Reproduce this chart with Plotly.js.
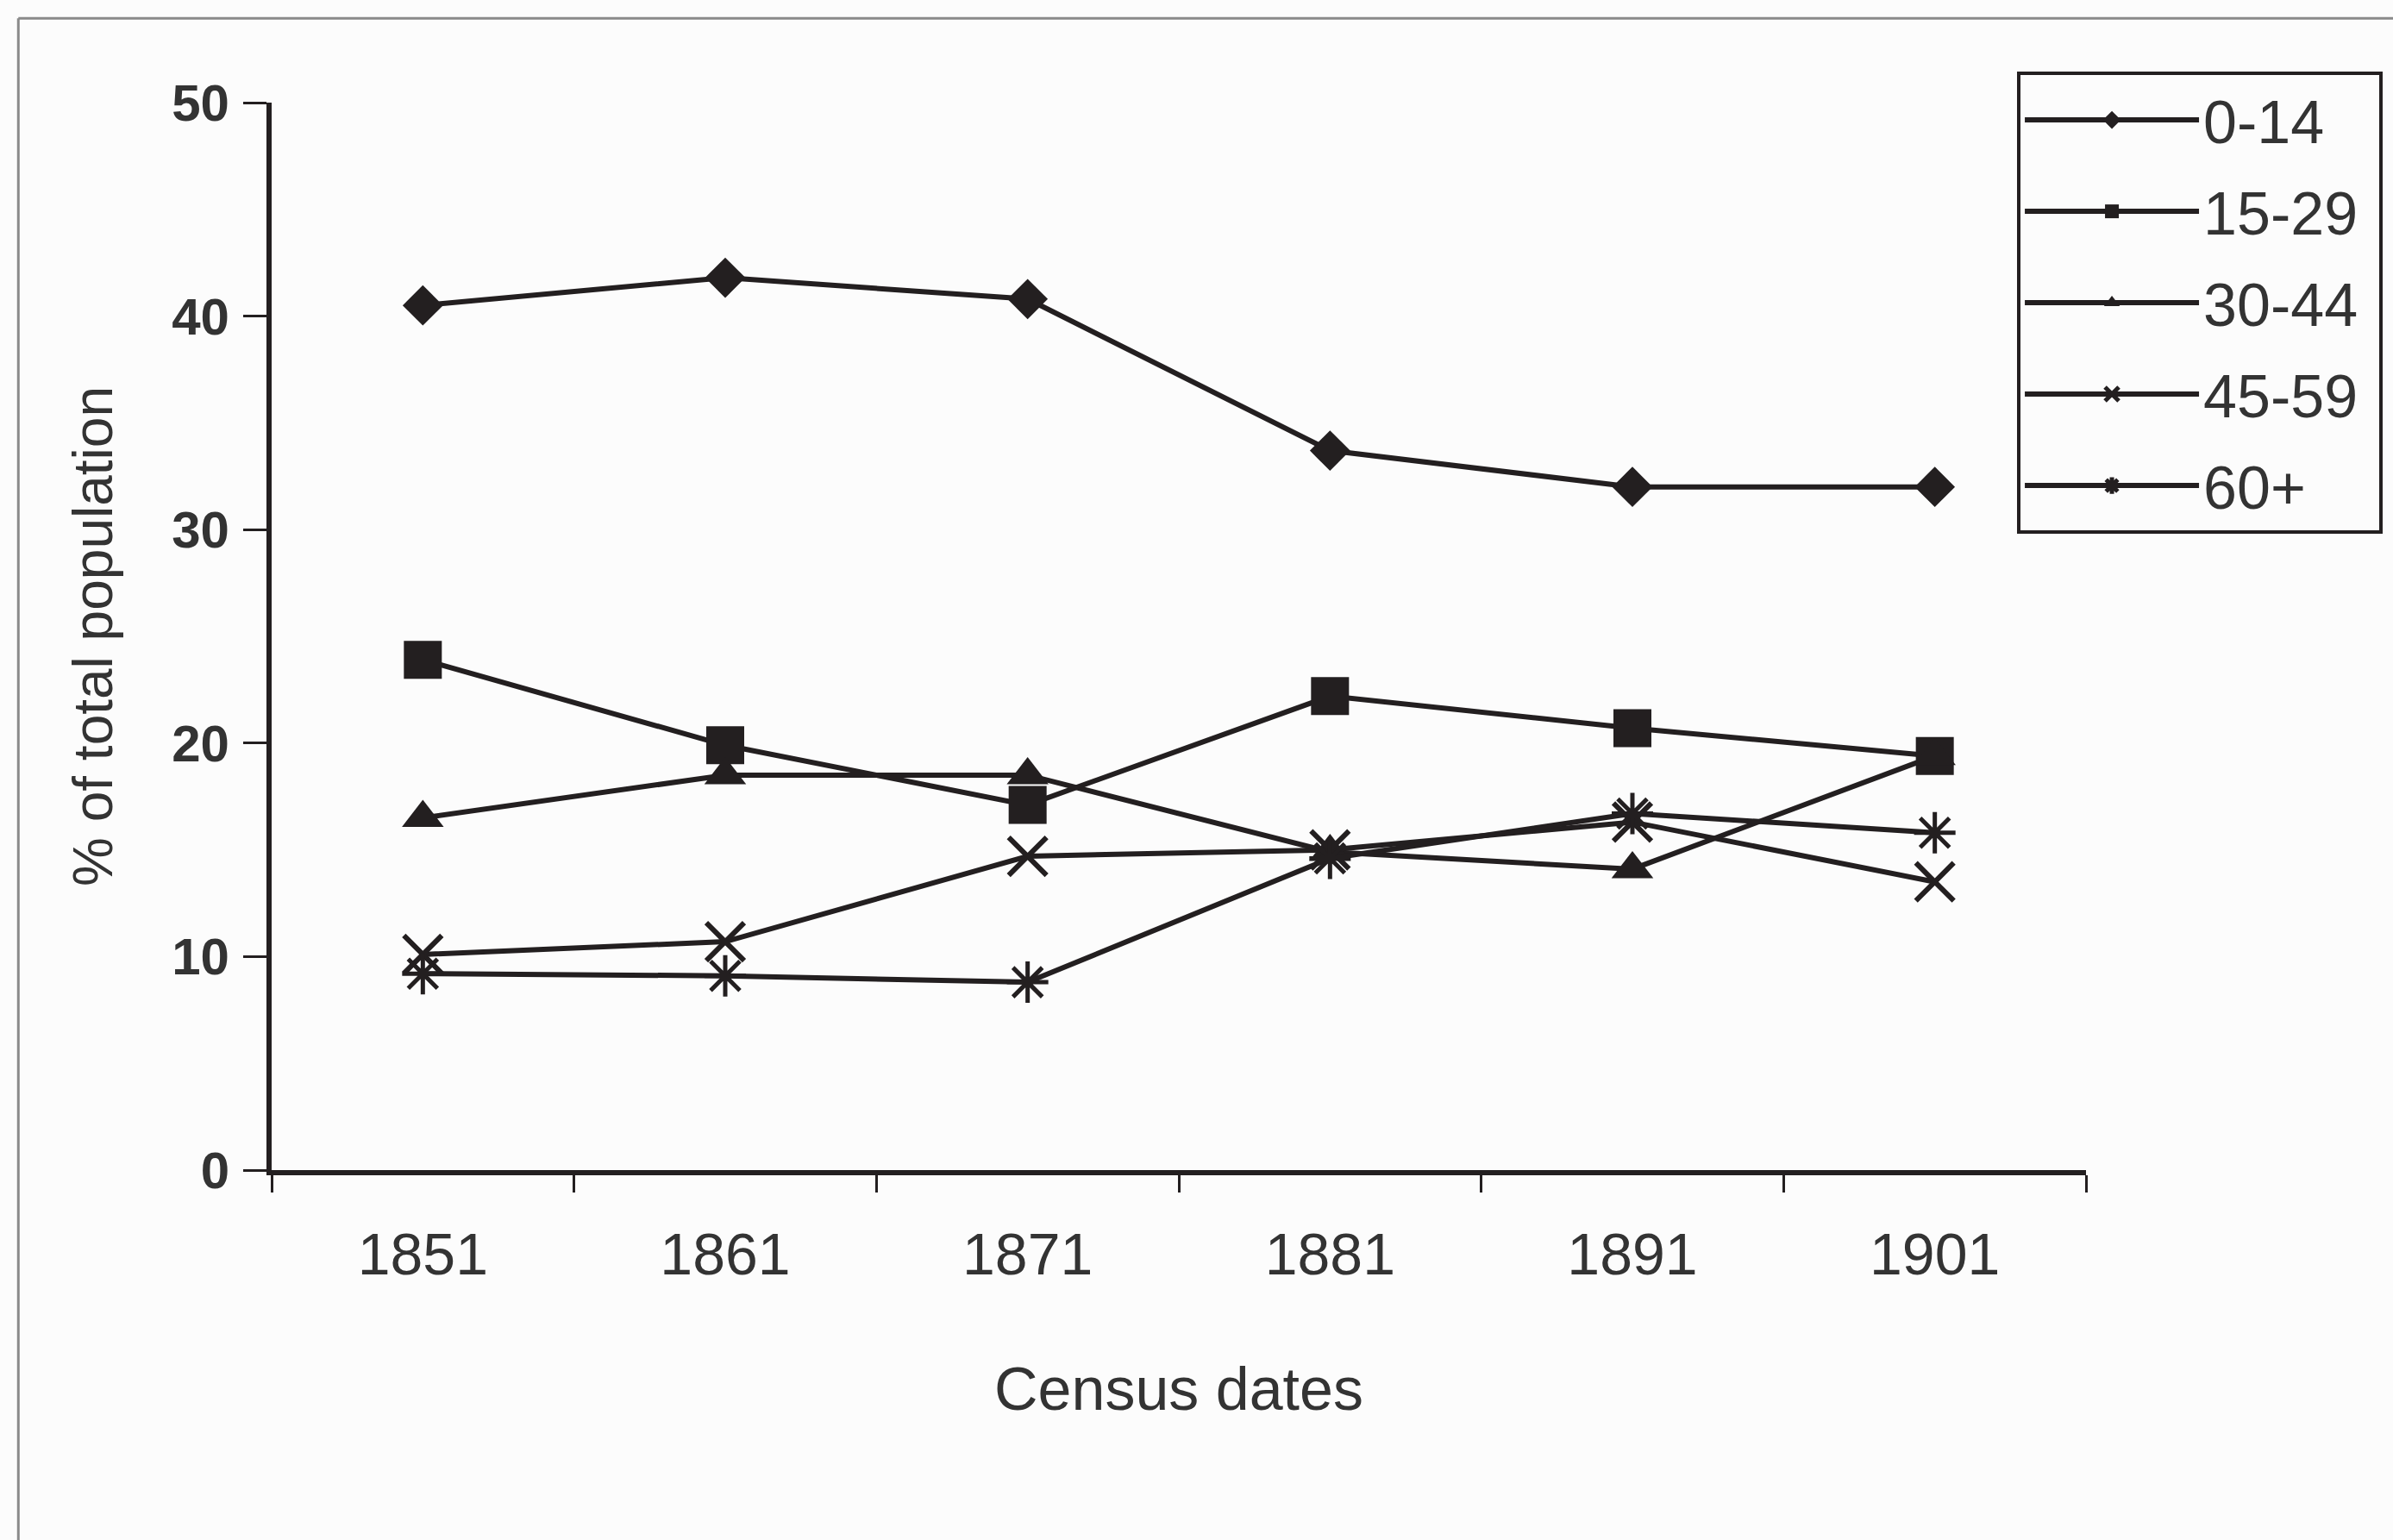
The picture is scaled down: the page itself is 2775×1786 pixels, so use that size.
<!DOCTYPE html>
<html>
<head>
<meta charset="utf-8">
<script src="https://cdn.plot.ly/plotly-3.0.1.min.js"></script>
<style>
  html, body { margin: 0; padding: 0; background: #fcfcfc; }
  #chart { width: 2775px; height: 1786px; }
</style>
</head>
<body>
<div id="chart"></div>
<script>
// ---- data ----
var censusDates = ["1851", "1861", "1871", "1881", "1891", "1901"];
var age0_14  = [40.5, 41.8, 40.8, 33.7, 32.0, 32.0];
var age15_29 = [23.9, 19.9, 17.1, 22.2, 20.7, 19.4];
var age30_44 = [16.5, 18.5, 18.5, 14.9, 14.1, 19.4];
var age45_59 = [10.1, 10.7, 14.7, 15.0, 16.3, 13.5];
var age60plus = [9.2, 9.1, 8.8, 14.6, 16.7, 15.8];
var seriesNames = ["0-14", "15-29", "30-44", "45-59", "60+"];
var yTickVals = [0, 10, 20, 30, 40, 50];

// ---- style ----
var ink = "#231f20";
var txt = "#333333";
var fontFam = "'Liberation Sans', Arial, Helvetica, sans-serif";

function mk(name, y, symbol, size, lw) {
  return {
    type: "scatter",
    mode: "lines+markers",
    name: name + "\u00a0",
    legendgroup: name,
    x: censusDates,
    y: y,
    line: { color: ink, width: 6 },
    marker: { symbol: symbol, size: size, color: ink, line: { color: ink, width: lw } },
    cliponaxis: false
  };
}

var traces = [
  mk(seriesNames[0], age0_14, "diamond", 36, 0),
  mk(seriesNames[1], age15_29, "square", 44, 0),
  mk(seriesNames[2], age30_44, "triangle-up", 42, 0),
  mk(seriesNames[3], age45_59, "x-thin-open", 44, 6),
  mk(seriesNames[4], age60plus, "asterisk-open", 40, 5)
];

var layout = {
  width: 2775,
  height: 1786,
  paper_bgcolor: "#fcfcfc",
  plot_bgcolor: "rgba(0,0,0,0)",
  margin: { l: 315, r: 354, t: 119, b: 429, pad: 0 },
  font: { family: fontFam, color: txt, size: 64 },
  showlegend: true,
  legend: {
    x: 0.962, y: 1.029, xanchor: "left", yanchor: "top",
    bgcolor: "rgba(0,0,0,0)",
    bordercolor: ink, borderwidth: 4,
    font: { family: fontFam, size: 70, color: txt },
    itemwidth: 202,
    tracegroupgap: 12,
    traceorder: "grouped"
  },
  xaxis: {
    type: "category",
    range: [-0.5, 5.5],
    tickson: "boundaries",
    ticks: "outside",
    ticklen: 20,
    tickwidth: 3,
    tickcolor: ink,
    showline: true,
    linecolor: ink,
    linewidth: 6,
    showgrid: false,
    zeroline: false,
    tickfont: { family: fontFam, size: 68, color: txt },
    ticklabelstandoff: 33,
    title: { text: "Census dates", font: { family: fontFam, size: 70, color: txt }, standoff: 97 },
    fixedrange: true
  },
  yaxis: {
    range: [0, 50],
    tickvals: yTickVals,
    ticktext: yTickVals.map(String),
    ticks: "outside",
    ticklen: 27,
    tickwidth: 3,
    tickcolor: ink,
    showline: true,
    linecolor: ink,
    linewidth: 6,
    showgrid: false,
    zeroline: false,
    tickfont: { family: fontFam, size: 60, color: txt, weight: "bold" },
    ticklabelstandoff: 4,
    title: { text: "% of total population", font: { family: fontFam, size: 64, color: txt }, standoff: 50 },
    fixedrange: true
  },
  shapes: [
    { type: "line", xref: "paper", yref: "paper", x0: -0.1396, x1: -0.1396, y0: -0.4, y1: 1.079,
      line: { color: "#8a8a8a", width: 3 } },
    { type: "line", xref: "paper", yref: "paper", x0: -0.1396, x1: 1.3, y0: 1.079, y1: 1.079,
      line: { color: "#8a8a8a", width: 3 } }
  ]
};

Plotly.newPlot("chart", traces, layout, { displayModeBar: false, staticPlot: true });
</script>
</body>
</html>
